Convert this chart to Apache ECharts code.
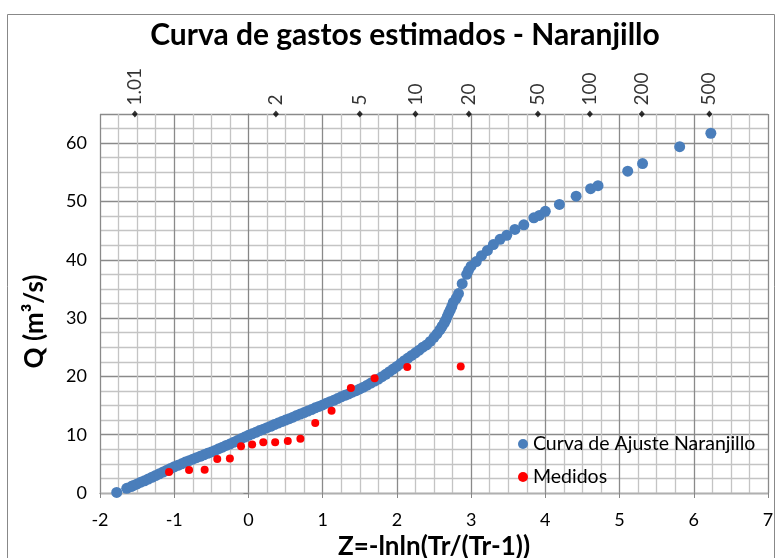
<!DOCTYPE html>
<html>
<head>
<meta charset="utf-8">
<script src="https://cdn.jsdelivr.net/npm/echarts@6/dist/echarts.min.js"></script>
<style>
html,body{margin:0;padding:0;background:#fff;}
#chart{width:778px;height:558px;}
</style>
</head>
<body>
<div id="chart"></div>
<script>
// Fitted curve (Z, Q)
const zFit = [-1.775,-1.64,-1.58,-1.55,-1.50,-1.45,-1.40,-1.35,-1.30,-1.25,-1.20,-1.15,-1.10,-1.05,-1.00,-0.95,-0.90,-0.85,-0.80,-0.75,-0.70,-0.65,-0.60,-0.55,-0.50,-0.45,-0.40,-0.35,-0.30,-0.25,-0.20,-0.15,-0.10,-0.05,0.00,0.05,0.10,0.15,0.20,0.25,0.30,0.35,0.40,0.45,0.50,0.55,0.60,0.65,0.70,0.75,0.80,0.85,0.90,0.95,1.00,1.05,1.10,1.15,1.20,1.25,1.30,1.35,1.40,1.45,1.50,1.55,1.60,1.65,1.70,1.75,1.80,1.85,1.90,1.95,2.00,2.05,2.10,2.15,2.20,2.25,2.30,2.35,2.40,2.45,2.50,2.54,2.58,2.61,2.64,2.66,2.68,2.70,2.72,2.74,2.76,2.80,2.83,2.88,2.94,2.965,3.00,3.07,3.14,3.22,3.30,3.39,3.48,3.59,3.71,3.845,3.92,4.00,4.19,4.415,4.61,4.71,5.11,5.31,5.81,6.23];
const qFit = [0.1,0.8,1.1,1.3,1.55,1.85,2.1,2.4,2.7,3.0,3.3,3.6,3.9,4.2,4.5,4.75,5.0,5.3,5.55,5.8,6.05,6.3,6.55,6.8,7.05,7.3,7.6,7.85,8.15,8.4,8.7,9.0,9.3,9.6,9.9,10.15,10.4,10.7,10.95,11.2,11.45,11.75,12.0,12.25,12.5,12.75,13.0,13.3,13.55,13.8,14.05,14.3,14.6,14.85,15.1,15.4,15.65,15.9,16.2,16.5,16.75,17.0,17.3,17.55,17.85,18.15,18.5,18.85,19.2,19.55,19.95,20.35,20.8,21.25,21.7,22.2,22.7,23.15,23.6,24.05,24.5,25.0,25.4,26.0,26.7,27.3,28.0,28.6,29.2,29.7,30.3,30.9,31.4,32.0,32.7,33.4,34.2,35.9,37.5,38.2,38.9,39.7,40.7,41.6,42.6,43.5,44.2,45.2,46.0,47.2,47.6,48.3,49.5,50.9,52.2,52.7,55.2,56.5,59.4,61.7];
// Measured values
const zMed = [-1.07,-0.80,-0.59,-0.42,-0.25,-0.10,0.05,0.20,0.36,0.53,0.70,0.90,1.12,1.38,1.70,2.14,2.86];
const qMed = [3.6,3.95,4.0,5.85,5.9,8.0,8.3,8.7,8.7,8.9,9.3,12.0,14.1,18.0,19.7,21.6,21.7];
// Return period marks on top edge
const trLabels = ['1.01','2','5','10','20','50','100','200','500'];
const zTr = [-1.53,0.37,1.50,2.25,2.97,3.90,4.60,5.30,6.21];
const yTop = 65;

const FONT = 'Lato';
const fitData = zFit.map((z,i)=>[z,qFit[i]]);
const medData = zMed.map((z,i)=>[z,qMed[i]]);
const trData = zTr.map((z,i)=>({value:[z,yTop], name:trLabels[i]}));

const chart = echarts.init(document.getElementById('chart'));
chart.setOption({
  animation:false,
  backgroundColor:'#fff',
  textStyle:{fontFamily:FONT},
  title:{
    text:'Curva de gastos estimados - Naranjillo',
    left:400, top:15, textAlign:'center',
    textStyle:{fontFamily:FONT, fontWeight:'bold', fontSize:30, color:'#000'}
  },
  graphic:[{
    type:'rect', silent:true, z:-10,
    shape:{x:7.5, y:14.5, width:767, height:560},
    style:{fill:'none', stroke:'#888', lineWidth:1}
  }],
  grid:{left:100, right:10, top:114, bottom:65, outerBoundsMode:'none', containLabel:false},
  legend:{
    orient:'vertical', left:513, top:428, itemGap:11,
    itemWidth:10, itemHeight:10,
    data:[{name:'Curva de Ajuste Naranjillo', icon:'circle'},{name:'Medidos', icon:'circle'}],
    textStyle:{fontFamily:FONT, fontSize:19.5, color:'#000', lineHeight:22}
  },
  xAxis:[{
    type:'value', min:-2, max:7, interval:1,
    name:'Z=-lnln(Tr/(Tr-1))', nameLocation:'middle', nameGap:32,
    nameTextStyle:{fontFamily:FONT, fontWeight:'bold', fontSize:26, color:'#000'},
    axisLine:{show:true, onZero:false, lineStyle:{color:'#868686', width:1}},
    axisTick:{show:true, length:5, lineStyle:{color:'#868686'}},
    axisLabel:{fontFamily:FONT, fontSize:18, color:'#000', margin:18},
    splitLine:{show:true, lineStyle:{color:'#8a8a8a', width:1.3}},
    minorTick:{show:false, splitNumber:4},
    minorSplitLine:{show:true, lineStyle:{color:'#c4c4c4', width:1.3}}
  },{
    type:'value', min:-2, max:7, position:'top',
    axisLine:{show:true, lineStyle:{color:'#b0b0b0', width:1.3}},
    axisTick:{show:false}, axisLabel:{show:false}, splitLine:{show:false}
  }],
  yAxis:{
    type:'value', min:0, max:65, interval:10,
    name:'Q (m³/s)', nameLocation:'middle', nameGap:52, nameRotate:90,
    nameTextStyle:{fontFamily:FONT, fontWeight:'bold', fontSize:26, color:'#000', padding:[0,36,0,0]},
    axisLine:{show:true, lineStyle:{color:'#868686', width:1}},
    axisTick:{show:true, length:5, lineStyle:{color:'#868686'}},
    axisLabel:{fontFamily:FONT, fontSize:18, color:'#000', margin:13,
      formatter:v=> (v%10===0 && v<=60) ? String(v) : ''},
    splitLine:{show:true, lineStyle:{color:'#8a8a8a', width:1.3}},
    minorTick:{show:false, splitNumber:4},
    minorSplitLine:{show:true, lineStyle:{color:'#c4c4c4', width:1.3}}
  },
  series:[{
    name:'Curva de Ajuste Naranjillo', type:'scatter', symbol:'circle', symbolSize:11,
    itemStyle:{color:'#4a7ebb', opacity:1}, data:fitData, z:3
  },{
    name:'Medidos', type:'scatter', symbol:'circle', symbolSize:8,
    itemStyle:{color:'#ff0000', opacity:1}, data:medData, z:4
  },{
    name:'Tr', type:'scatter', symbol:'diamond', symbolSize:[6,7], clip:false,
    itemStyle:{color:'#000'}, data:trData, z:5,
    label:{show:true, formatter:p=>p.name, position:'top', distance:5, rotate:90,
      align:'left', verticalAlign:'middle',
      fontFamily:FONT, fontSize:19, color:'#000'}
  }]
});
</script>
</body>
</html>
